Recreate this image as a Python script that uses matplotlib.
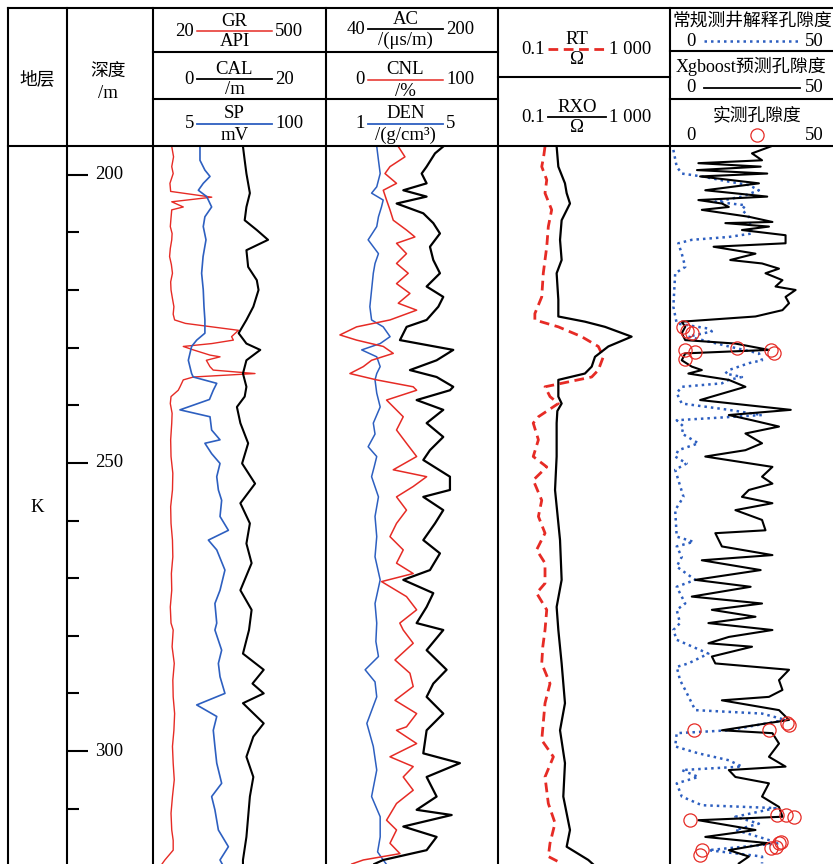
import numpy as np
import matplotlib.pyplot as plt

plt.rcParams['font.family'] = ['Liberation Serif', 'Noto Sans CJK SC']

# ---- log data: (depth m, value) ----
gr = [(195.1, 72), (196.9, 77), (198.6, 72), (199.8, 76), (201.5, 67), (202.9, 69), (203.9, 183),
      (204.7, 72), (205.6, 104), (206.1, 72), (207.5, 70), (209.0, 68), (210.2, 73), (211.3, 72),
      (212.8, 68), (214.2, 66), (215.6, 71), (217.1, 74), (218.6, 69), (220.0, 70), (221.5, 74),
      (222.9, 78), (224.2, 76), (225.2, 80), (225.8, 110), (227.0, 257), (228.1, 238), (228.7, 243),
      (229.3, 183), (229.8, 104), (230.4, 132), (231.3, 178), (231.6, 206), (232.2, 168), (233.3, 178),
      (233.9, 187), (234.5, 303), (235.1, 132), (235.6, 104), (236.8, 95), (237.4, 90), (238.5, 70),
      (239.7, 68), (241.4, 73), (243.1, 72), (246.0, 69), (248.9, 70), (251.8, 75), (254.7, 74),
      (257.6, 69), (260.5, 70), (263.4, 74), (266.3, 75), (269.2, 71), (272.1, 72), (275.0, 68),
      (277.8, 70), (279.0, 76), (281.9, 73), (284.8, 79), (287.7, 75), (290.6, 76), (293.5, 80),
      (296.4, 78), (299.2, 74), (302.1, 76), (305.0, 79), (307.9, 74), (310.8, 70), (313.7, 72),
      (315.5, 76), (317.2, 76), (318.9, 53), (319.6, 45)]

sp = [(195.1, 30.8), (197.5, 30.8), (199.2, 33.5), (200.3, 36.3), (201.5, 32.6), (202.7, 29.9),
      (203.8, 34.5), (205.6, 37.2), (207.3, 33.5), (209.0, 32.6), (211.3, 34.1), (214.2, 32.5),
      (217.1, 31.7), (220.0, 32.6), (222.9, 33.0), (225.2, 33.5), (227.5, 33.5), (228.7, 29.0),
      (229.8, 26.2), (232.2, 24.4), (234.5, 26.2), (235.1, 27.1), (236.2, 40.0), (237.4, 38.1),
      (239.0, 36.0), (240.8, 19.8), (242.0, 36.3), (244.3, 37.2), (246.0, 41.8), (246.6, 33.5),
      (248.4, 37.2), (250.1, 41.8), (252.4, 40.0), (254.7, 40.9), (256.5, 42.7), (259.3, 41.8),
      (261.7, 46.4), (263.4, 35.4), (265.1, 40.0), (268.6, 44.5), (272.1, 41.8), (274.4, 39.0),
      (277.8, 40.0), (279.0, 39.0), (282.5, 42.7), (284.8, 40.9), (287.1, 41.8), (290.0, 44.5),
      (292.0, 29.0), (294.0, 40.0), (296.4, 38.1), (299.2, 39.0), (302.1, 40.0), (305.6, 42.7),
      (307.9, 37.2), (310.2, 39.0), (313.7, 40.9), (316.6, 46.4), (318.9, 41.8), (319.6, 43.0)]

cal = [(195.1, 10.4), (197.5, 10.6), (199.8, 10.8), (201.5, 11.0), (203.2, 11.2), (205.6, 10.8),
       (207.9, 10.6), (209.6, 12.0), (211.3, 13.3), (213.1, 10.8), (216.0, 11.0), (218.3, 12.0),
       (220.0, 12.2), (222.9, 11.6), (225.2, 10.8), (227.5, 9.9), (229.3, 10.8), (230.4, 12.4),
       (232.2, 10.8), (234.5, 10.4), (236.8, 10.8), (238.5, 10.6), (240.3, 9.7), (243.1, 10.1),
       (246.6, 11.0), (250.1, 10.3), (253.6, 11.8), (257.0, 10.1), (260.5, 11.2), (264.0, 10.8),
       (267.4, 11.4), (272.1, 10.1), (275.5, 11.4), (279.0, 11.1), (283.1, 10.4), (285.9, 12.8),
       (288.3, 11.5), (290.0, 12.8), (291.7, 10.4), (295.2, 12.8), (297.5, 11.6), (301.0, 10.8),
       (304.5, 11.6), (307.9, 11.2), (311.4, 11.0), (314.9, 10.8), (318.9, 10.4), (319.6, 10.4)]

ac = [(195.1, 149.1), (196.3, 141.4), (198.6, 133.6), (199.8, 129.0), (201.5, 133.6), (202.7, 111.9),
      (203.8, 133.6), (205.0, 105.7), (206.7, 130.5), (208.4, 139.8), (210.2, 146.0), (212.5, 136.7),
      (214.8, 139.8), (217.1, 146.0), (219.4, 133.6), (221.2, 149.1), (222.9, 144.5), (225.2, 133.6),
      (226.4, 115.0), (228.7, 108.8), (230.4, 158.4), (232.2, 142.9), (233.9, 118.1), (235.1, 142.9),
      (236.8, 158.4), (237.4, 155.3), (239.1, 124.3), (240.8, 149.1), (243.1, 133.6), (245.5, 149.1),
      (247.8, 136.7), (249.5, 130.5), (252.4, 155.3), (254.7, 155.3), (255.9, 130.5), (258.2, 149.1),
      (260.5, 141.4), (263.4, 130.5), (265.7, 146.0), (268.6, 136.7), (270.3, 111.9), (272.6, 139.8),
      (275.0, 133.6), (277.8, 124.3), (279.0, 149.1), (282.5, 133.6), (285.9, 152.2), (288.3, 139.8),
      (290.6, 133.6), (293.5, 149.1), (296.4, 133.6), (300.4, 130.5), (302.1, 164.6), (304.5, 133.6),
      (307.9, 142.9), (310.2, 124.3), (311.1, 156.9), (313.1, 111.9), (314.9, 142.9), (317.2, 133.6),
      (318.9, 93.3), (319.6, 85.0)]

cnl = [(195.1, 42.0), (196.9, 45.9), (198.6, 37.2), (199.8, 34.3), (201.5, 41.0), (202.7, 33.3),
       (204.4, 35.2), (206.1, 37.2), (207.9, 39.1), (209.6, 46.8), (210.8, 51.7), (211.9, 41.0),
       (213.7, 46.8), (215.4, 41.0), (217.1, 47.8), (218.9, 41.0), (220.6, 48.8), (222.3, 42.0),
       (223.5, 52.7), (225.2, 37.2), (226.4, 17.8), (227.8, 8.1), (228.7, 17.8), (229.8, 33.3),
       (231.0, 39.1), (232.2, 26.5), (233.3, 21.7), (234.5, 13.9), (235.6, 29.4), (236.8, 50.7),
       (237.4, 52.7), (239.1, 35.2), (242.0, 44.9), (244.3, 41.0), (246.6, 46.8), (248.9, 52.7),
       (251.2, 39.1), (252.4, 58.5), (254.1, 50.7), (255.9, 41.0), (258.2, 46.8), (260.5, 41.0),
       (262.8, 37.2), (265.1, 44.9), (267.4, 41.0), (269.2, 50.7), (270.6, 32.3), (273.2, 46.8),
       (275.5, 52.7), (277.8, 42.9), (279.0, 44.9), (281.3, 50.7), (284.2, 40.1), (286.5, 48.8),
       (288.8, 50.7), (291.2, 40.1), (293.5, 52.7), (295.8, 46.8), (296.4, 41.0), (298.7, 52.7),
       (301.0, 37.2), (302.7, 50.7), (304.5, 44.9), (306.8, 50.7), (309.1, 41.0), (312.0, 35.2),
       (313.7, 41.0), (316.0, 37.2), (317.8, 43.0), (318.9, 21.7), (319.6, 15.0)]

den = [(195.1, 2.18), (197.5, 2.22), (199.8, 2.26), (202.1, 2.18), (203.2, 2.06), (204.4, 2.33),
       (205.6, 2.29), (207.3, 2.22), (209.0, 2.18), (211.3, 1.98), (213.7, 2.22), (215.4, 2.14),
       (217.1, 2.10), (220.0, 2.06), (222.9, 2.02), (225.2, 2.06), (226.4, 2.33), (228.1, 2.49),
       (229.3, 2.26), (230.4, 1.83), (231.6, 2.18), (233.3, 2.26), (234.5, 2.18), (235.6, 2.14),
       (237.9, 2.18), (240.3, 2.26), (243.1, 2.10), (245.0, 2.14), (247.2, 1.98), (248.9, 2.18),
       (250.7, 2.12), (252.4, 2.06), (255.9, 2.22), (259.3, 2.14), (262.8, 2.18), (266.3, 2.14),
       (270.3, 2.26), (274.4, 2.14), (277.8, 2.18), (281.0, 2.16), (283.6, 2.22), (285.9, 1.91),
       (288.0, 2.14), (290.6, 2.18), (295.2, 1.95), (299.2, 2.10), (303.3, 2.18), (307.9, 2.06),
       (311.4, 2.26), (314.9, 2.26), (317.5, 2.20), (318.9, 2.33), (319.6, 2.40)]

rt = [(195.1, 1.24), (196.9, 1.15), (198.6, 1.04), (200.9, 1.36), (203.2, 1.24), (206.1, 1.77),
      (209.0, 1.48), (212.5, 1.36), (217.1, 1.13), (221.2, 1.04), (224.1, 0.72), (225.2, 0.72),
      (226.4, 2.53), (228.1, 8.8), (229.8, 21.5), (231.6, 28.1), (233.9, 21.5), (235.1, 15.1),
      (236.8, 1.24), (238.5, 1.62), (239.7, 2.53), (242.0, 0.87), (243.1, 0.66), (246.0, 0.87),
      (248.9, 0.66), (250.7, 1.36), (253.0, 0.66), (256.5, 1.04), (259.3, 0.87), (262.2, 1.24),
      (265.1, 0.79), (267.4, 1.24), (270.9, 1.24), (272.6, 0.79), (275.5, 1.36), (279.0, 1.24),
      (281.9, 1.10), (284.8, 1.04), (288.3, 1.62), (291.7, 1.24), (298.1, 1.04), (301.0, 1.94),
      (304.5, 1.24), (309.1, 1.48), (312.5, 2.12), (316.0, 1.62), (318.3, 1.48), (319.5, 3.02)]

rxo = [(195.1, 2.31), (198.6, 2.53), (201.5, 3.61), (203.2, 3.95), (205.0, 4.72), (207.9, 3.02),
       (211.3, 2.77), (214.8, 3.02), (217.1, 2.31), (221.7, 2.53), (224.6, 2.53), (225.5, 10.5),
       (226.4, 30.8), (228.1, 128.0), (229.8, 36.8), (231.6, 18.0), (233.3, 15.1), (234.5, 10.5),
       (235.6, 2.53), (238.5, 2.53), (239.7, 3.02), (241.0, 2.40), (243.1, 2.31), (248.9, 2.31),
       (254.7, 2.12), (263.4, 2.77), (270.3, 3.02), (275.0, 2.31), (279.0, 2.53), (284.8, 3.02),
       (291.7, 3.61), (296.4, 2.77), (302.1, 3.61), (307.9, 3.30), (313.7, 4.72), (316.6, 3.95),
       (318.9, 12.6), (319.6, 16.0)]

por_conv = [(195.7, 0.97), (198.6, 1.94), (199.8, 3.4), (200.3, 9.2), (201.2, 17.0), (201.8, 22.8),
            (202.7, 25.7), (203.8, 20.8), (204.7, 13.1), (205.3, 21.8), (206.1, 20.8), (207.3, 22.8),
            (209.0, 23.3), (210.2, 23.7), (210.8, 17.0), (211.3, 6.3), (211.9, 2.4), (213.7, 3.4),
            (216.0, 4.4), (217.1, 1.5), (222.9, 0.97), (225.8, 1.94), (226.7, 11.1), (227.2, 12.1),
            (228.1, 5.3), (229.8, 17.0), (231.0, 25.7), (232.2, 26.6), (232.7, 22.8), (233.9, 17.0),
            (234.5, 16.0), (235.1, 20.8), (235.6, 17.0), (236.2, 15.0), (236.8, 3.4), (237.9, 1.94),
            (239.7, 3.4), (240.8, 17.0), (241.7, 26.6), (242.6, 1.94), (243.7, 3.9), (244.9, 3.4),
            (246.6, 8.2), (247.8, 2.4), (248.9, 1.5), (250.1, 4.8), (251.2, 1.5), (255.9, 3.9),
            (258.2, 1.5), (262.8, 1.94), (263.7, 6.8), (264.5, 1.94), (266.3, 3.4), (268.0, 1.94),
            (270.3, 7.3), (271.5, 1.94), (274.4, 4.4), (275.5, 1.94), (277.8, 2.9), (279.0, 0.97),
            (280.7, 1.94), (283.1, 11.1), (284.8, 5.3), (285.4, 1.94), (287.7, 2.9), (289.4, 4.4),
            (292.9, 7.3), (293.5, 26.6), (294.6, 33.4), (296.4, 17.0), (296.9, 1.94), (299.2, 1.5),
            (300.4, 8.2), (301.6, 17.0), (302.7, 20.8), (303.3, 3.4), (304.5, 8.2), (305.6, 1.94),
            (307.9, 3.4), (309.4, 9.2), (309.9, 30.5), (311.4, 18.9), (312.6, 25.7), (313.7, 18.9),
            (314.9, 25.7), (316.0, 31.5), (317.2, 11.1), (318.3, 26.6), (319.5, 26.6)]

por_xgb = [(195.1, 29.1), (196.3, 23.7), (197.5, 26.6), (198.0, 8.2), (198.6, 26.2), (199.2, 7.8),
           (199.8, 28.1), (200.3, 8.7), (201.5, 25.7), (202.7, 10.2), (203.8, 28.1), (204.4, 8.2),
           (205.0, 15.0), (205.6, 17.0), (206.1, 9.2), (207.3, 22.8), (208.2, 29.6), (208.4, 16.0),
           (209.0, 28.6), (209.6, 20.8), (210.5, 33.4), (211.9, 33.4), (212.5, 12.6), (213.7, 24.7),
           (214.8, 17.4), (215.4, 26.6), (216.3, 31.5), (217.1, 27.6), (218.3, 32.5), (219.4, 30.5),
           (220.0, 36.3), (221.2, 33.4), (222.3, 34.4), (223.5, 32.5), (224.6, 24.7), (225.5, 3.4),
           (226.4, 4.4), (227.5, 3.4), (228.7, 4.4), (229.3, 18.9), (230.4, 28.6), (231.0, 4.4),
           (232.2, 3.4), (233.3, 6.3), (233.9, 9.2), (234.5, 5.3), (235.6, 17.0), (236.8, 21.8),
           (239.1, 8.7), (240.8, 34.9), (241.7, 17.0), (242.6, 23.7), (243.7, 31.5), (244.9, 21.8),
           (246.6, 26.6), (247.8, 21.8), (248.9, 10.2), (250.7, 29.6), (252.4, 26.6), (253.6, 29.6),
           (254.7, 22.8), (255.9, 20.8), (257.0, 29.6), (258.2, 18.9), (259.9, 26.6), (261.7, 27.6),
           (262.2, 13.1), (264.5, 15.0), (266.0, 29.6), (266.9, 9.2), (268.6, 26.2), (270.3, 7.3),
           (271.5, 23.3), (273.2, 6.3), (274.4, 26.6), (275.5, 12.1), (276.7, 24.7), (277.8, 11.1),
           (279.0, 29.6), (280.2, 17.0), (281.3, 11.1), (281.9, 23.7), (283.6, 12.1), (284.8, 13.1),
           (285.9, 34.4), (287.7, 31.5), (289.4, 32.5), (290.6, 28.6), (291.2, 15.0), (292.9, 31.5),
           (294.6, 34.4), (296.4, 15.0), (296.9, 29.6), (298.7, 31.5), (301.0, 28.6), (302.7, 33.4),
           (303.3, 17.0), (304.5, 18.9), (305.6, 28.6), (307.9, 26.6), (309.7, 31.5), (311.4, 32.5),
           (312.0, 8.2), (313.1, 18.9), (313.7, 24.7), (314.9, 10.2), (316.0, 28.6), (317.2, 17.0),
           (318.3, 22.8), (319.5, 19.9)]

por_core = [(226.4, 3.9), (227.2, 4.8), (227.5, 6.3), (230.4, 4.4), (230.7, 7.3), (231.9, 4.4),
            (230.1, 19.4), (230.4, 29.1), (231.0, 30.0), (296.4, 6.8), (296.4, 28.6), (295.2, 33.9),
            (295.5, 34.4), (312.0, 5.8), (311.1, 31.0), (311.1, 33.4), (311.4, 35.9), (316.0, 31.5),
            (316.6, 30.5), (316.9, 29.1), (315.7, 32.0), (317.2, 9.2), (318.0, 8.7)]

depth_major = [200, 250, 300]
depth_minor = [210, 220, 230, 240, 260, 270, 280, 290, 310]

W, H = 833, 864
HEAD_TOP, HEAD_BOT = 8, 146
DEPTH_TOP, DEPTH_BOT = 195.02, 319.6
RED = '#e62b25'
BLUE = '#2d5fc0'
FS = 13.5      # latin labels
FS_CN = 12.8   # chinese labels

fig = plt.figure(figsize=(W / 100, H / 100), dpi=100)


def track(x0, x1, xlim, log=False):
    ax = fig.add_axes([x0 / W, 0, (x1 - x0) / W, (H - HEAD_BOT) / H])
    ax.set_ylim(DEPTH_BOT, DEPTH_TOP)
    if log:
        ax.set_xscale('log')
    ax.set_xlim(*xlim)
    ax.axis('off')
    ax.patch.set_visible(False)
    return ax


def draw(ax, pts, **kw):
    d, v = np.array(pts).T
    ax.plot(v, d, **kw)


# track 1: GR / CAL / SP
draw(track(153, 326, (20, 500)), gr, color=RED, lw=1.0)
draw(track(153, 326, (5, 100)), sp, color=BLUE, lw=1.2)
draw(track(153, 326, (0, 20)), cal, color='black', lw=1.5)

# track 2: AC / CNL / DEN
draw(track(326, 498, (1, 5)), den, color=BLUE, lw=1.1)
draw(track(326, 498, (0, 100)), cnl, color=RED, lw=1.1)
draw(track(326, 498, (40, 200)), ac, color='black', lw=1.6)

# track 3: resistivity
draw(track(498, 670, (0.1, 1000), log=True), rt, color=RED, lw=2.0, ls=(0, (3.5, 2)))
draw(track(498, 670, (0.1, 1000), log=True), rxo, color='black', lw=1.6)

# track 4: porosity
ax_p = track(670, 843, (0, 50))
draw(ax_p, por_conv, color=BLUE, lw=1.8, ls=(0, (1, 1.6)))
draw(ax_p, por_xgb, color='black', lw=1.5)
cd, cv = np.array(por_core).T
ax_p.plot(cv, cd, 'o', ms=9.5, mfc='none', mec=RED, mew=0.9, clip_on=False)

# depth column
ax_d = fig.add_axes([67 / W, 0, 86 / W, (H - HEAD_BOT) / H])
ax_d.set_ylim(DEPTH_BOT, DEPTH_TOP)
ax_d.set_xlim(0, 1)
for s in ax_d.spines.values():
    s.set_visible(False)
ax_d.patch.set_visible(False)
ax_d.set_xticks([])
ax_d.set_yticks(depth_major)
ax_d.set_yticks(depth_minor, minor=True)
ax_d.tick_params(axis='y', which='major', direction='in', length=15, width=1.5, labelleft=False)
ax_d.tick_params(axis='y', which='minor', direction='in', length=8.5, width=1.5)
for d in depth_major:
    ax_d.text(0.325, d, str(d), ha='left', va='center', fontsize=FS)

# header grid and labels in pixel space
ov = fig.add_axes([0, 0, 1, 1])
ov.set_xlim(0, W)
ov.set_ylim(H, 0)
ov.axis('off')
ov.patch.set_visible(False)


def hline(y, x0, x1, **kw):
    ov.plot([x0, x1], [y, y], color=kw.pop('color', 'black'), lw=kw.pop('lw', 1.5), **kw)


def vline(x, y0, y1):
    ov.plot([x, x], [y0, y1], color='black', lw=1.5)


hline(HEAD_TOP, 8, W)
hline(HEAD_BOT, 8, W)
for x in [8, 67, 153, 326, 498, 670]:
    vline(x, HEAD_TOP, H)
for y in [52, 99]:
    hline(y, 153, 498)
hline(77, 498, 670)
hline(51, 670, W)
hline(99, 670, W)

ov.text(37, 80, '地层', ha='center', va='center', fontsize=FS_CN)
ov.text(108, 72, '深度', ha='center', va='center', fontsize=FS_CN)
ov.text(108, 93, '/m', ha='center', va='center', fontsize=FS)
ov.text(37, 508, 'K', ha='center', va='center', fontsize=FS)


def scale(x0, x1, y, name, unit, lo, hi, color, ls='-', lw=1.3, gap=10):
    hline(y, x0, x1, color=color, lw=lw, ls=ls)
    xc = (x0 + x1) / 2
    ov.text(xc, y - gap, name, ha='center', va='center', fontsize=FS)
    ov.text(xc, y + gap + 1, unit, ha='center', va='center', fontsize=FS)
    ov.text(x0 - 3, y, lo, ha='right', va='center', fontsize=FS)
    ov.text(x1 + 3, y, hi, ha='left', va='center', fontsize=FS)


scale(197, 272, 31, 'GR', 'API', '20', '500', RED, lw=1.1)
scale(197, 272, 79, 'CAL', '/m', '0', '20', 'black')
scale(197, 272, 124, 'SP', 'mV', '5', '100', BLUE)
scale(368, 443, 29, 'AC', '/(μs/m)', '40', '200', 'black')
scale(368, 443, 80, 'CNL', '/%', '0', '100', RED, lw=1.1)
scale(368, 443, 124, 'DEN', '/(g/cm³)', '1', '5', BLUE)
scale(548, 606, 49, 'RT', 'Ω', '0.1', '1 000', RED, ls=(0, (3.5, 2)), lw=2.0)
scale(548, 606, 117, 'RXO', 'Ω', '0.1', '1 000', 'black')

ov.text(673, 21, '常规测井解释孔隙度', ha='left', va='center', fontsize=FS_CN)
hline(41, 704, 800, color=BLUE, lw=1.8, ls=(0, (1, 1.6)))
ov.text(691, 41, '0', ha='center', va='center', fontsize=FS)
ov.text(805, 41, '50', ha='left', va='center', fontsize=FS)

ov.text(676, 66, 'Xgboost预测孔隙度', ha='left', va='center', fontsize=13)
hline(88, 704, 800, lw=1.3)
ov.text(691, 88, '0', ha='center', va='center', fontsize=FS)
ov.text(805, 88, '50', ha='left', va='center', fontsize=FS)

ov.text(757, 116, '实测孔隙度', ha='center', va='center', fontsize=FS_CN)
ov.plot([757], [135], 'o', ms=9.5, mfc='none', mec=RED, mew=0.9)
ov.text(691, 135, '0', ha='center', va='center', fontsize=FS)
ov.text(805, 135, '50', ha='left', va='center', fontsize=FS)

fig.savefig('out.png', dpi=100)
